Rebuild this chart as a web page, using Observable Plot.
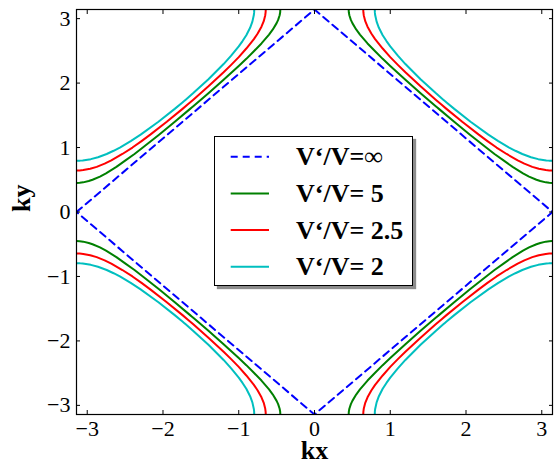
<!DOCTYPE html>
<html>
<head>
<meta charset="utf-8">
<script src="https://cdn.jsdelivr.net/npm/d3@7"></script>
<script src="https://cdn.jsdelivr.net/npm/@observablehq/plot@0.6"></script>
<style>
  html, body { margin: 0; padding: 0; background: white; }
  #wrap { position: relative; width: 554px; height: 464px; }
  #legend { position: absolute; left: 214px; top: 136px; width: 199px; height: 150px;
            box-sizing: border-box; border: 1px solid #000; background: #fff;
            box-shadow: 3px 3px 1px #8c8c8c; }
</style>
</head>
<body>
<div id="wrap"></div>
<script>
const PI = Math.PI;
const xTicks = [-3, -2, -1, 0, 1, 2, 3];
const yTicks = [-3, -2, -1, 0, 1, 2, 3];

const seriesNames = ["V‘/V=∞", "V‘/V= 5", "V‘/V= 2.5", "V‘/V= 2"];
const seriesColors = ["#0000ff", "#008000", "#ff0000", "#00bfbf"];

// dashed diamond (V'/V = ∞)
const diamondKx = [-PI, 0, PI, 0, -PI];
const diamondKy = [0, PI, 0, -PI, 0];

// half-branches (first quadrant, from top edge to the diagonal)
const v5Kx  = [0.451, 0.453, 0.46, 0.48, 0.50, 0.55, 0.60, 0.70, 0.80, 0.90, 1.00, 1.20, 1.40, 1.60, 1.621];
const v5Ky  = [3.1416, 3.099, 3.053, 2.980, 2.930, 2.832, 2.752, 2.615, 2.495, 2.376, 2.266, 2.052, 1.844, 1.642, 1.621];
const v25Kx = [0.6435, 0.645, 0.65, 0.67, 0.70, 0.75, 0.80, 0.90, 1.00, 1.10, 1.20, 1.40, 1.60, 1.671];
const v25Ky = [3.1416, 3.099, 3.053, 2.961, 2.875, 2.770, 2.682, 2.536, 2.403, 2.283, 2.168, 1.950, 1.742, 1.671];
const v2Kx  = [0.7954, 0.797, 0.80, 0.82, 0.85, 0.90, 0.95, 1.00, 1.10, 1.20, 1.40, 1.60, 1.70, 1.721];
const v2Ky  = [3.1416, 3.093, 3.060, 2.953, 2.858, 2.743, 2.652, 2.569, 2.426, 2.295, 2.060, 1.845, 1.743, 1.721];

function branchRows(kx, ky, name) {
  // full branch: half, then mirrored about the diagonal
  const pts = kx.map((x, i) => [x, ky[i]]);
  const full = pts.concat(pts.slice(0, -1).reverse().map(([a, b]) => [b, a]));
  const rows = [];
  for (const sx of [1, -1]) for (const sy of [1, -1]) {
    full.forEach(([a, b], i) => rows.push({kx: sx * a, ky: sy * b, s: name, z: name + sx + sy, i}));
  }
  return rows;
}

const diamond = diamondKx.map((x, i) => ({kx: x, ky: diamondKy[i]}));
const curves = [
  ...branchRows(v5Kx, v5Ky, seriesNames[1]),
  ...branchRows(v25Kx, v25Ky, seriesNames[2]),
  ...branchRows(v2Kx, v2Ky, seriesNames[3])
];

const colorOf = Object.fromEntries(seriesNames.map((n, i) => [n, seriesColors[i]]));
const fmt = d3.format("d");

const chart = Plot.plot({
  width: 554,
  height: 464,
  marginLeft: 76,
  marginRight: 2,
  marginTop: 9,
  marginBottom: 50,
  style: {fontFamily: "'Liberation Serif', serif", fontSize: "22px", background: "white", color: "black"},
  x: {domain: [-PI, PI]},
  y: {domain: [-PI, PI]},
  marks: [
    Plot.line(diamond, {x: "kx", y: "ky", stroke: seriesColors[0], strokeWidth: 2, strokeDasharray: "7,5", clip: true}),
    ...seriesNames.slice(1).map(n =>
      Plot.line(curves.filter(d => d.s === n), {x: "kx", y: "ky", z: "z", stroke: colorOf[n], strokeWidth: 2, clip: true})
    ),
    Plot.axisX({ticks: xTicks, tickSize: -4, tickPadding: 9.5, tickFormat: fmt, label: null, fontSize: 22}),
    Plot.axisX({anchor: "top", ticks: xTicks, tickSize: -4, tickFormat: () => "", label: null}),
    Plot.axisY({ticks: yTicks, tickSize: -4, tickPadding: 10, tickFormat: fmt, label: null, fontSize: 22}),
    Plot.axisY({anchor: "right", ticks: yTicks, tickSize: -4, tickFormat: () => "", label: null}),
    Plot.frame({stroke: "black", strokeWidth: 1.2}),
    Plot.text(["kx"], {frameAnchor: "bottom", dy: 44, lineAnchor: "bottom", fontSize: 26, fontWeight: "bold"}),
    Plot.text(["ky"], {frameAnchor: "left", dx: -55, rotate: -90, fontSize: 26, fontWeight: "bold"})
  ]
});

const wrap = document.getElementById("wrap");
wrap.appendChild(chart);

// legend box
const leg = document.createElement("div");
leg.id = "legend";
wrap.appendChild(leg);
const lsvg = d3.select(leg).append("svg").attr("width", 197).attr("height", 148)
  .style("position", "absolute").style("left", "0px").style("top", "0px");
seriesNames.forEach((n, i) => {
  const cy = 19.7 + i * 36.7;
  lsvg.append("line").attr("x1", 15.7).attr("x2", 54).attr("y1", cy).attr("y2", cy)
    .attr("stroke", seriesColors[i]).attr("stroke-width", 2)
    .attr("stroke-dasharray", i === 0 ? "7,5" : null);
  lsvg.append("text").attr("x", 81).attr("y", cy + 8.5)
    .attr("font-family", "'Liberation Serif', serif").attr("font-size", 26)
    .attr("font-weight", "bold").attr("fill", "black").text(n);
});
</script>
</body>
</html>
